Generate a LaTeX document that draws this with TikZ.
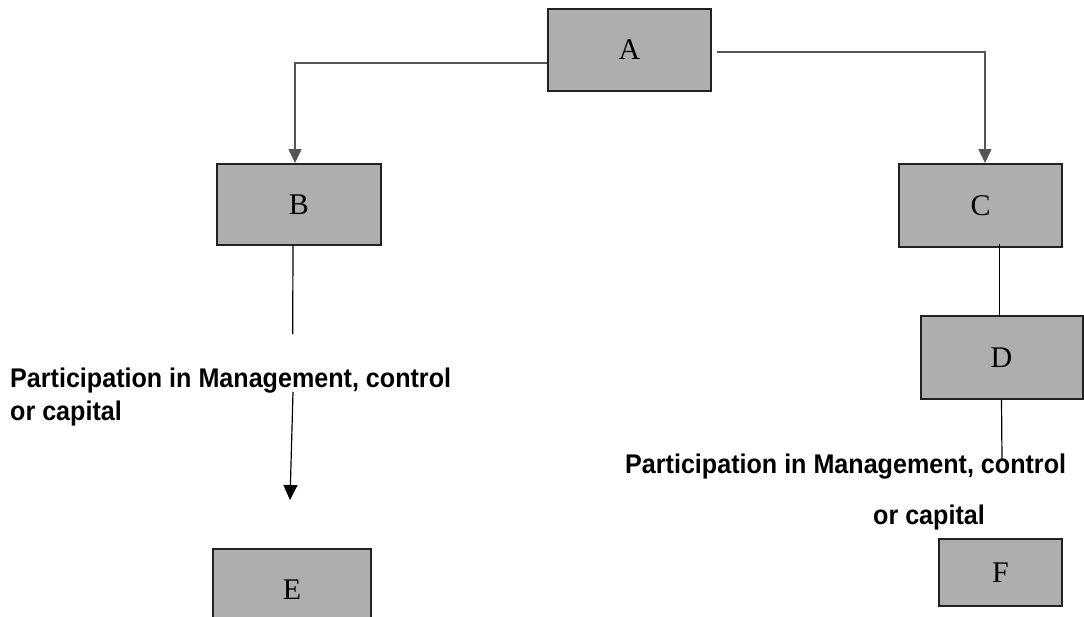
\documentclass[tikz,border=0pt]{standalone}
\usepackage{fontspec}
\setmainfont{Liberation Serif}
\newfontfamily\labelfont[FakeStretch=0.93]{Liberation Sans}
\usetikzlibrary{arrows.meta}
\definecolor{boxfill}{HTML}{AEAEAE}
\definecolor{boxedge}{HTML}{222222}
\definecolor{linkgray}{HTML}{555555}
\tikzset{
  entity/.style={draw=boxedge, line width=2pt, fill=boxfill, inner sep=0pt,
    font=\fontsize{30}{36}\selectfont},
  graylink/.style={draw=linkgray, line width=1.6pt,
    -{Triangle[length=14pt,width=13pt]}},
  thinlink/.style={draw=black, line width=1.2pt},
  arrowlink/.style={thinlink, -{Triangle[length=15pt,width=14pt]}},
  note/.style={inner sep=0pt, anchor=base west,
    font=\labelfont\bfseries\fontsize{27}{32}\selectfont},
}
\begin{document}
\begin{tikzpicture}[x=1pt, y=-1pt]
\useasboundingbox (0,0) rectangle (1084,616);
\begin{scope}
\clip (0,0) rectangle (1084,616);

% entities
\node[entity, minimum width=163pt, minimum height=82pt] (A) at (629.5,50) {A};
\node[entity, minimum width=164pt, minimum height=81pt] (B) at (299,204.5) {B};
\node[entity, minimum width=163pt, minimum height=83pt] (C) at (980.5,205.5) {C};
\node[entity, minimum width=162pt, minimum height=83pt] (D) at (1001.5,357.5) {D};
\node[entity, minimum width=158pt, minimum height=82pt] (E) at (292,590) {E};
\node[entity, minimum width=123pt, minimum height=67pt] (F) at (1000.5,572.5) {F};

% labels
\node[note] (lblL1) at (10,387) {Participation in Management, control};
\node[note] (lblL2) at (10,420) {or capital};
\node[note] (lblR1) at (625,473) {Participation in Management, control};
\node[note] (lblR2) at (873,524) {or capital};

% free ends of the open connectors
\coordinate (bEnd) at (292.7,334);
\coordinate (eStart) at (293,392);
\coordinate (eTip) at (290,500);
\coordinate (dEnd) at (1002,460);

% connectors
\draw[graylink] ([yshift=-13pt]A.west) -| ([xshift=-4pt]B.north);
\draw[graylink] ([xshift=5pt,yshift=-2pt]A.east) -| ([xshift=4.5pt]C.north);
\draw[thinlink] ([xshift=-6pt]B.south |- 0,245) -- (bEnd);
\draw[arrowlink] (eStart) -- (eTip);
\draw[thinlink] ([xshift=19pt,yshift=4pt]C.south) -- ([xshift=-2pt]D.north);
\draw[thinlink] (D.south) -- (dEnd);
\end{scope}
\end{tikzpicture}
\end{document}
